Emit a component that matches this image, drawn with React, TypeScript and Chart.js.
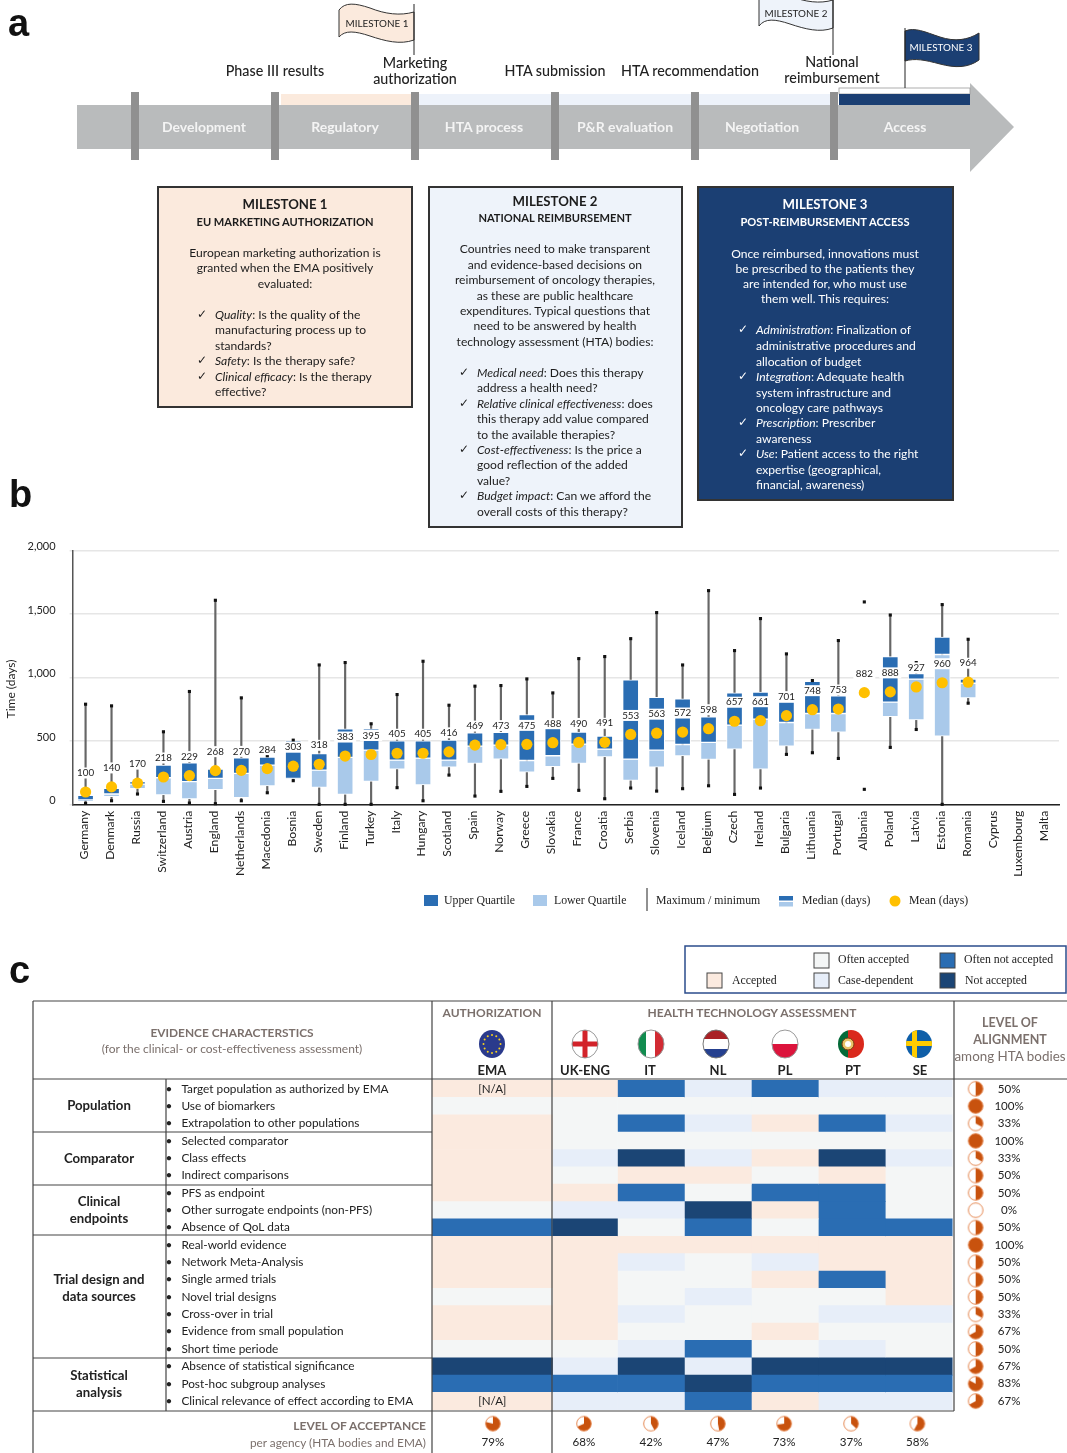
import React, { useEffect, useRef } from "react";
import { Chart, registerables } from "chart.js";

Chart.register(...registerables);

/* ---------- Panel b data ---------- */
const countries = ["Germany","Denmark","Russia","Switzerland","Austria","England","Netherlands","Macedonia","Bosnia","Sweden","Finland","Turkey","Italy","Hungary","Scotland","Spain","Norway","Greece","Slovakia","France","Croatia","Serbia","Slovenia","Iceland","Belgium","Czech","Ireland","Bulgaria","Lithuania","Portugal","Albania","Poland","Latvia","Estonia","Romania","Cyprus","Luxembourg","Malta"];
const maxDays = [791,778,310,574,891,1609,841,385,508,1100,1119,637,867,1129,783,933,938,990,880,1150,1166,1307,1512,1100,1685,1213,1465,1187,977,1292,1596,1493,1119,1575,1302,null,null,null];
const q3Days = [73,128,181,312,330,280,369,375,503,403,597,597,503,503,508,566,569,710,671,571,540,982,846,833,692,880,886,807,972,857,null,1166,1032,1320,988,null,null,null];
const medianDays = [37,84,162,212,181,207,246,312,207,272,372,430,351,367,351,461,469,348,385,477,438,359,430,474,490,626,673,647,718,718,null,807,988,1182,956,null,null,null];
const q1Days = [31,63,126,76,45,118,55,147,205,136,81,183,280,155,296,325,359,257,299,325,377,191,296,383,356,438,280,461,592,571,null,692,668,540,841,null,null,null];
const minDays = [10,31,84,26,13,8,31,94,189,3,3,3,134,31,233,68,105,144,207,113,47,131,107,126,149,81,131,396,409,364,121,451,592,3,799,null,null,null];
const meanDays = [100,140,170,218,229,268,270,284,303,318,383,395,405,405,416,469,473,475,488,490,491,553,563,572,598,657,661,701,748,753,882,888,927,960,964,null,null,null];

/* ---------- Panel c data ---------- */
const rowLabels = ["Target population as authorized by EMA","Use of biomarkers","Extrapolation to other populations","Selected comparator","Class effects","Indirect comparisons","PFS as endpoint","Other surrogate endpoints (non-PFS)","Absence of QoL data","Real-world evidence","Network Meta-Analysis","Single armed trials","Novel trial designs","Cross-over in trial","Evidence from small population","Short time periode","Absence of statistical significance","Post-hoc subgroup analyses","Clinical relevance of effect according to EMA"];
const agencies = ["EMA","UK-ENG","IT","NL","PL","PT","SE"];
// A accepted, O often accepted, C case-dependent, N often not accepted, X not accepted
const emaStatus = "AOAAAAAONAAAOAAOXNA".split("");
const ukStatus = "AOOOCOACXAAAAAAOCNC".split("");
const itStatus = "NONOXANCOACOOCOCXNC".split("");
const nlStatus = "COCOCAOXNAOOCOONCXN".split("");
const plStatus = "NOAOAONAOACAOOAOXNA".split("");
const ptStatus = "CONOXANNNAANOCOCXNC".split("");
const seStatus = "COCOCOOONAAAACOOXNC".split("");
const statuses = [emaStatus, ukStatus, itStatus, nlStatus, plStatus, ptStatus, seStatus];
const columnEdges = [0, 1.8, 2.77, 3.77, 4.77, 5.77, 6.77, 7.77];
const alignment = [50,100,33,100,33,50,50,0,50,100,50,50,50,33,67,50,67,83,67];
const acceptance = [79,68,42,47,73,37,58];
const acceptanceCols = [0.91,2.27,3.27,4.27,5.26,6.26,7.25];
const notApplicableRows = [0, 18];

const statusColors: Record<string,string> = { A:"#FBEADF", O:"#F4F6F6", C:"#E7EEF9", N:"#2A6DB3", X:"#1B4575" };
const BLUE = "#2A6DB3", LIGHT = "#A9C9EA", NAVY = "#1B3F73", GOLD = "#FFC000", PIE = "#C8520E";
const SANS = "Lato, 'Noto Sans', sans-serif";
const SERIF = "'Liberation Serif', serif";
const GREY = "#7b706c";

function pieCanvas(pct: number) {
  const c = document.createElement("canvas");
  c.width = 18; c.height = 18;
  const g = c.getContext("2d")!;
  const cx = 9, cy = 9, r = 7.3;
  g.beginPath(); g.arc(cx, cy, r, 0, Math.PI * 2); g.fillStyle = "#fff"; g.fill();
  if (pct > 0) {
    g.beginPath(); g.moveTo(cx, cy);
    g.arc(cx, cy, r, -Math.PI / 2, -Math.PI / 2 + (Math.PI * 2 * pct) / 100);
    g.closePath(); g.fillStyle = PIE; g.fill();
  }
  g.beginPath(); g.arc(cx, cy, r, 0, Math.PI * 2);
  g.strokeStyle = "#E58A55"; g.lineWidth = 1; g.stroke();
  return c;
}

const T = ({ x, y, a = "start", s = 12, w = 400, i = false, f = "#222", ff = SANS, len, children }: any) => (
  <text x={x} y={y - 0.7} textAnchor={a} fontSize={s} fontWeight={w} fontStyle={i ? "italic" : "normal"} fill={f} fontFamily={ff}
    dominantBaseline="central" {...(len ? { textLength: len, lengthAdjust: "spacingAndGlyphs" } : {})}>{children}</text>
);

type Line = [number, string, string?];

const Card = ({ x, y, w, h, fill, fg, title, sub, titleY, subY, cx, para, items, checkX, textX }: any) => (
  <g>
    <rect x={x} y={y} width={w} height={h} fill={fill} stroke="#333" strokeWidth={2} />
    <T x={cx} y={titleY} a="middle" s={13.2} w={700} f={fg}>{title}</T>
    <T x={cx} y={subY} a="middle" s={11.1} w={700} f={fg}>{sub}</T>
    {para.map((l: Line, k: number) => <T key={k} x={cx} y={l[0]} a="middle" s={12.1} f={fg}>{l[1]}</T>)}
    {items.map((l: Line, k: number) => (
      <g key={k}>
        {l[2] !== undefined && <T x={checkX} y={l[0]} s={12} f={fg} ff="'DejaVu Sans'">✓</T>}
        <text x={textX} y={l[0] - 0.7} fontSize={12.1} fill={fg} fontFamily={SANS} dominantBaseline="central">
          {l[2] ? <tspan fontStyle="italic">{l[2]}</tspan> : null}{l[1]}
        </text>
      </g>
    ))}
  </g>
);

const FlagShape = ({ d, fill, px, y1, y2, label, lx, ly, fg }: any) => (
  <g>
    <path d={d} fill={fill} stroke="#333" strokeWidth={1} />
    <line x1={px} x2={px} y1={y1} y2={y2} stroke="#222" strokeWidth={1} />
    <T x={lx} y={ly} a="middle" s={10} f={fg} len={63}>{label}</T>
  </g>
);

const Overlay = () => {
  const swatch = (x: number, y: number, fill: string) => <rect x={x} y={y} width={15} height={15} fill={fill} stroke="#444" strokeWidth={1} />;
  const flagR = { rx: 13, ry: 14 };
  const flagY = 1044;
  const flagClip = (id: string, cx: number) => <clipPath id={id}><ellipse cx={cx} cy={flagY} {...flagR} /></clipPath>;
  const ring = (cx: number, stroke = "#999") => <ellipse cx={cx} cy={flagY} {...flagR} fill="none" stroke={stroke} strokeWidth={1} />;
  return (
    <svg width={1067} height={1453} style={{ position: "absolute", left: 0, top: 0, pointerEvents: "none" }}>
      {/* panel letters */}
      <T x={8} y={24} s={38} w={700} f="#111" ff="'Liberation Sans'">a</T>
      <T x={9} y={495} s={38} w={700} f="#111" ff="'Liberation Sans'">b</T>
      <T x={9} y={971} s={38} w={700} f="#111" ff="'Liberation Sans'">c</T>

      {/* panel a: arrow */}
      <path d="M77,105 H970 V83 L1014,127 L970,172 V149 H77 Z" fill="#B9BBBC" />
      <rect x={281} y={94} width={130} height={11} fill="#FBEADD" />
      <rect x={419} y={94} width={411} height={11} fill="#EDF2FA" />
      <rect x={839} y={88} width={131} height={6} fill="#fff" stroke="#999" strokeWidth={0.8} />
      <rect x={839} y={94} width={131} height={11} fill={NAVY} />
      {[135,275,415,555,695,834].map((x) => <rect key={x} x={x - 4} y={92} width={8} height={68} fill="#909090" />)}
      {[["Development",204],["Regulatory",345],["HTA process",484],["P&R evaluation",625],["Negotiation",762],["Access",905]].map(([t, x]: any) => (
        <T key={t} x={x} y={127} a="middle" s={14} w={700} f="#F4F4F4">{t}</T>
      ))}
      <T x={275} y={71} a="middle" s={14.3} w={500}>Phase III results</T>
      <T x={415} y={63} a="middle" s={14.3} w={500}>Marketing</T>
      <T x={415} y={79} a="middle" s={14.3} w={500}>authorization</T>
      <T x={555} y={71} a="middle" s={14.3} w={500}>HTA submission</T>
      <T x={690} y={71} a="middle" s={14.3} w={500}>HTA recommendation</T>
      <T x={832} y={62} a="middle" s={14.3} w={500}>National</T>
      <T x={832} y={78} a="middle" s={14.3} w={500}>reimbursement</T>
      <FlagShape d="M339,10 C345,2 355,3 370,8 C385,14 400,16 414,12 L414,40 C400,45 385,41 370,36 C355,31 345,30 339,37 Z" fill="#FBEADD" px={414} y1={4} y2={55} label="MILESTONE 1" lx={377} ly={24} fg="#222" />
      <FlagShape d="M759,-2 C765,-10 775,-9 790,-4 C805,2 820,4 833,0 L833,28 C820,33 805,29 790,24 C775,19 765,18 759,26 Z" fill="#EEF3FA" px={833} y1={0} y2={55} label="MILESTONE 2" lx={796} ly={14} fg="#222" />
      <FlagShape d="M905,31 C915,27 925,32 940,37 C955,42 968,40 979,33 L979,60 C968,68 955,68 940,64 C925,60 915,58 905,61 Z" fill={NAVY} px={905} y1={28} y2={88} label="MILESTONE 3" lx={941} ly={48} fg="#fff" />

      <Card x={158} y={187} w={254} h={220} fill="#FBEADD" fg="#1c1c1c" cx={285} titleY={205} subY={222}
        title="MILESTONE 1" sub="EU MARKETING AUTHORIZATION" checkX={197} textX={215}
        para={[[253,"European marketing authorization is"],[268,"granted when the EMA positively"],[284,"evaluated:"]]}
        items={[[315,": Is the quality of the","Quality"],[330,"manufacturing process up to"],[346,"standards?"],[361,": Is the therapy safe?","Safety"],[377,": Is the therapy","Clinical efficacy"],[392,"effective?"]]} />
      <Card x={429} y={187} w={253} h={340} fill="#EEF3FA" fg="#1c1c1c" cx={555} titleY={202} subY={218}
        title="MILESTONE 2" sub="NATIONAL REIMBURSEMENT" checkX={459} textX={477}
        para={[[249,"Countries need to make transparent"],[265,"and evidence-based decisions on"],[280,"reimbursement of oncology therapies,"],[296,"as these are public healthcare"],[311,"expenditures. Typical questions that"],[326,"need to be answered by health"],[342,"technology assessment (HTA) bodies:"]]}
        items={[[373,": Does this therapy","Medical need"],[388,"address a health need?"],[404,": does","Relative clinical effectiveness"],[419,"this therapy add value compared"],[435,"to the available therapies?"],[450,": Is the price a","Cost-effectiveness"],[465,"good reflection of the added"],[481,"value?"],[496,": Can we afford the","Budget impact"],[512,"overall costs of this therapy?"]]} />
      <Card x={698} y={187} w={255} h={313} fill={NAVY} fg="#fff" cx={825} titleY={205} subY={222}
        title="MILESTONE 3" sub="POST-REIMBURSEMENT ACCESS" checkX={738} textX={756}
        para={[[254,"Once reimbursed, innovations must"],[269,"be prescribed to the patients they"],[284,"are intended for, who must use"],[299,"them well. This requires:"]]}
        items={[[330,": Finalization of","Administration"],[346,"administrative procedures and"],[362,"allocation of budget"],[377,": Adequate health","Integration"],[393,"system infrastructure and"],[408,"oncology care pathways"],[423,": Prescriber","Prescription"],[439,"awareness"],[454,": Patient access to the right","Use"],[470,"expertise (geographical,"],[485,"financial, awareness)"]]} />

      {/* panel b: axis title + legend */}
      <g transform="translate(11,689) rotate(-90)"><T x={0} y={0} a="middle" s={12} f="#222">Time (days)</T></g>
      <rect x={424} y={895} width={14} height={11} fill={BLUE} />
      <T x={444} y={900.5} s={11.8} ff={SERIF}>Upper Quartile</T>
      <rect x={533} y={895} width={14} height={11} fill={LIGHT} />
      <T x={554} y={901} s={11.8} ff={SERIF}>Lower Quartile</T>
      <line x1={647} x2={647} y1={888} y2={911} stroke="#222" strokeWidth={1} />
      <T x={656} y={901} s={11.8} ff={SERIF}>Maximum / minimum</T>
      <rect x={779} y={896} width={14} height={4.5} fill={BLUE} />
      <rect x={779} y={902} width={14} height={4.5} fill={LIGHT} />
      <T x={802} y={901} s={11.8} ff={SERIF}>Median (days)</T>
      <circle cx={895} cy={901} r={5.5} fill={GOLD} />
      <T x={909} y={901} s={11.8} ff={SERIF}>Mean (days)</T>

      {/* panel c: legend */}
      <rect x={685} y={946} width={381} height={47} fill="none" stroke="#2B4C8C" strokeWidth={1.5} />
      {swatch(707, 973, statusColors.A)}<T x={732} y={981} s={11.8} ff={SERIF}>Accepted</T>
      {swatch(814, 953, statusColors.O)}<T x={838} y={960} s={11.8} ff={SERIF}>Often accepted</T>
      {swatch(814, 973, statusColors.C)}<T x={838} y={981} s={11.8} ff={SERIF}>Case-dependent</T>
      {swatch(940, 953, statusColors.N)}<T x={964} y={960} s={11.8} ff={SERIF}>Often not accepted</T>
      {swatch(940, 973, statusColors.X)}<T x={965} y={981} s={11.8} ff={SERIF}>Not accepted</T>

      {/* panel c: table lines */}
      <g stroke="#444" strokeWidth={1.2}>
        <line x1={33} x2={1067} y1={1001} y2={1001} />
        <line x1={33} x2={1067} y1={1079} y2={1079} />
        <line x1={33} x2={432} y1={1132} y2={1132} />
        <line x1={33} x2={432} y1={1185} y2={1185} />
        <line x1={33} x2={432} y1={1235} y2={1235} />
        <line x1={33} x2={432} y1={1358} y2={1358} />
        <line x1={33} x2={954} y1={1411} y2={1411} />
        <line x1={33} x2={33} y1={1001} y2={1453} />
        <line x1={432} x2={432} y1={1001} y2={1453} />
        <line x1={552} x2={552} y1={1001} y2={1453} />
        <line x1={954} x2={954} y1={1001} y2={1411} />
        <line x1={166} x2={166} y1={1079} y2={1411} />
      </g>
      <T x={232} y={1033} a="middle" s={11.9} w={700} f={GREY}>EVIDENCE CHARACTERSTICS</T>
      <T x={232} y={1049} a="middle" s={12} f={GREY}>(for the clinical- or cost-effectiveness assessment)</T>
      <T x={99} y={1106} a="middle" s={13.2} w={700}>Population</T>
      <T x={99} y={1159} a="middle" s={13.2} w={700}>Comparator</T>
      <T x={99} y={1202} a="middle" s={13.2} w={700}>Clinical</T>
      <T x={99} y={1219} a="middle" s={13.2} w={700}>endpoints</T>
      <T x={99} y={1280} a="middle" s={13.2} w={700}>Trial design and</T>
      <T x={99} y={1297} a="middle" s={13.2} w={700}>data sources</T>
      <T x={99} y={1376} a="middle" s={13.2} w={700}>Statistical</T>
      <T x={99} y={1393} a="middle" s={13.2} w={700}>analysis</T>
      <T x={492} y={1013} a="middle" s={12} w={700} f={GREY}>AUTHORIZATION</T>
      <T x={752} y={1013} a="middle" s={12} w={700} f={GREY}>HEALTH TECHNOLOGY ASSESSMENT</T>
      <T x={1010} y={1023} a="middle" s={12.5} w={700} f={GREY}>LEVEL OF</T>
      <T x={1010} y={1040} a="middle" s={12.5} w={700} f={GREY}>ALIGNMENT</T>
      <T x={1010} y={1057} a="middle" s={13.4} f={GREY}>among  HTA bodies</T>
      <T x={426} y={1426} a="end" s={12} w={700} f={GREY}>LEVEL OF ACCEPTANCE</T>
      <T x={426} y={1443} a="end" s={11.8} f={GREY}>per agency (HTA bodies and EMA)</T>
      {agencies.map((n, k) => (
        <T key={n} x={[492,585,650,718,785,853,920][k]} y={1071} a="middle" s={13} w={700}>{n}</T>
      ))}

      {/* flags */}
      <defs>
        {flagClip("f0", 492)}{flagClip("f1", 585)}{flagClip("f2", 651)}{flagClip("f3", 716)}{flagClip("f4", 785)}{flagClip("f5", 851)}{flagClip("f6", 919)}
      </defs>
      <ellipse cx={492} cy={flagY} {...flagR} fill="#2A3A8C" />
      {Array.from({ length: 12 }, (_, k) => (
        <circle key={k} cx={492 + 8.5 * Math.cos((k * Math.PI) / 6)} cy={flagY + 9 * Math.sin((k * Math.PI) / 6)} r={1} fill="#F7D11E" />
      ))}
      <g clipPath="url(#f1)"><rect x={570} y={1028} width={30} height={32} fill="#fff" /><rect x={582.5} y={1028} width={5} height={32} fill="#D2232A" /><rect x={570} y={1041.5} width={30} height={5} fill="#D2232A" /></g>{ring(585)}
      <g clipPath="url(#f2)"><rect x={636} y={1028} width={10} height={32} fill="#118C4F" /><rect x={646} y={1028} width={9} height={32} fill="#fff" /><rect x={655} y={1028} width={12} height={32} fill="#D22B33" /></g>{ring(651)}
      <g clipPath="url(#f3)"><rect x={700} y={1028} width={32} height={11} fill="#A92126" /><rect x={700} y={1039} width={32} height={10} fill="#fff" /><rect x={700} y={1049} width={32} height={11} fill="#25408F" /></g>{ring(716, "#777")}
      <g clipPath="url(#f4)"><rect x={770} y={1028} width={30} height={16} fill="#fff" /><rect x={770} y={1044} width={30} height={16} fill="#DC143C" /></g>{ring(785)}
      <g clipPath="url(#f5)"><rect x={836} y={1028} width={12} height={32} fill="#046A38" /><rect x={848} y={1028} width={20} height={32} fill="#DA291C" /><circle cx={848} cy={1044} r={6} fill="#E9C46A" stroke="#7a3b10" strokeWidth={1} /><circle cx={848} cy={1044} r={3} fill="#fff" /></g>
      <g clipPath="url(#f6)"><rect x={904} y={1028} width={30} height={32} fill="#0F5FA8" /><rect x={912} y={1028} width={5} height={32} fill="#FECC00" /><rect x={904} y={1041} width={30} height={5} fill="#FECC00" /></g>
    </svg>
  );
};

export default function App() {
  const boxRef = useRef<HTMLCanvasElement>(null);
  const heatRef = useRef<HTMLCanvasElement>(null);

  useEffect(() => {
    const ctxBox = boxRef.current!;
    const labelPlugin = {
      id: "meanLabels",
      afterDatasetsDraw(chart: any) {
        const g = chart.ctx;
        const meta = chart.getDatasetMeta(chart.data.datasets.length - 1);
        g.save();
        g.font = `9.8px ${SANS}`;
        g.textAlign = "center";
        g.textBaseline = "middle";
        meanDays.forEach((v, i) => {
          if (v === null) return;
          const p = meta.data[i];
          const y = p.y - 19;
          g.fillStyle = "#fff";
          g.fillRect(p.x - 11, y - 5.5, 22, 11);
          g.fillStyle = "#222";
          g.fillText(String(v), p.x, y);
        });
        g.restore();
      },
    };
    const bar = (label: string, data: any[], color: string, order: number, extra: any = {}) => ({
      type: "bar", label, data, backgroundColor: color, order, grouped: false, barThickness: 16,
      borderWidth: 1, borderColor: "#fff", borderSkipped: false, ...extra,
    });
    const dots = (label: string, data: any[], color: string, order: number, style: string, r: number) => ({
      type: "line", label, data, showLine: false, order, pointStyle: style, pointRadius: r, pointHoverRadius: r,
      pointBackgroundColor: color, pointBorderWidth: 0, backgroundColor: color, clip: false,
    });
    const boxChart = new Chart(ctxBox, {
      data: {
        labels: countries,
        datasets: [
          bar("Maximum / minimum", countries.map((_, i) => (q3Days[i] === null || maxDays[i] === null ? null : [minDays[i], maxDays[i]])), "#666666", 6, { barThickness: 1.5, borderWidth: 0 }),
          bar("Upper Quartile", countries.map((_, i) => (q3Days[i] === null ? null : [medianDays[i], q3Days[i]])), BLUE, 4),
          bar("Lower Quartile", countries.map((_, i) => (q1Days[i] === null ? null : [q1Days[i], medianDays[i]])), LIGHT, 4),
          dots("Maximum", maxDays, "#111111", 3, "rect", 2.2),
          dots("Minimum", minDays, "#111111", 3, "rect", 2.2),
          dots("Mean (days)", meanDays, GOLD, 1, "circle", 5.6),
        ],
      } as any,
      plugins: [labelPlugin],
      options: {
        responsive: false,
        animation: false,
        devicePixelRatio: 1,
        layout: { padding: { left: 0, top: 10.6, right: 8, bottom: 0 } },
        plugins: { legend: { display: false }, tooltip: { enabled: false } },
        scales: {
          x: {
            afterFit: (s: any) => { s.height = 80.3; },
            grid: { display: false, drawTicks: false },
            border: { color: "#222", width: 1.5 },
            ticks: { autoSkip: false, minRotation: 90, maxRotation: 90, padding: 6, labelOffset: -1.5, color: "#222", font: { family: SANS, size: 12.2 } },
          },
          y: {
            min: 0, max: 2000,
            afterFit: (s: any) => { s.width = 72.6; },
            grid: { color: "#E6E6E6", lineWidth: 1.5, tickLength: 3 },
            border: { color: "#555", width: 1.5 },
            ticks: { stepSize: 500, padding: 14, labelOffset: -4, color: "#222", font: { family: SANS, size: 11 }, callback: (v: any) => Number(v).toLocaleString("en-US") },
          },
        },
      } as any,
    });

    const alignPies = alignment.map(pieCanvas);
    const acceptPies = acceptance.map(pieCanvas);
    const textPlugin = {
      id: "tableText",
      afterDatasetsDraw(chart: any) {
        const g = chart.ctx, X = chart.scales.x, Y = chart.scales.y;
        g.save();
        g.font = `11.6px ${SANS}`;
        g.fillStyle = "#222";
        g.textAlign = "center";
        g.textBaseline = "middle";
        alignment.forEach((v, i) => g.fillText(`${v}%`, X.getPixelForValue(8.62), Y.getPixelForValue(i + 0.5)));
        acceptance.forEach((v, i) => g.fillText(`${v}%`, X.getPixelForValue(acceptanceCols[i]), Y.getPixelForValue(20.9)));
        notApplicableRows.forEach((r) => g.fillText("[N/A]", X.getPixelForValue(0.9), Y.getPixelForValue(r + 0.5)));
        g.restore();
      },
    };
    const heatChart = new Chart(heatRef.current!, {
      type: "bar",
      data: {
        datasets: [
          ...agencies.map((name, c) => ({
            type: "bar", label: name, grouped: false, barPercentage: 1, categoryPercentage: 1, borderWidth: 0, order: 3,
            data: rowLabels.map((_, r) => ({ x: [columnEdges[c], columnEdges[c + 1]], y: r + 0.5 })),
            backgroundColor: statuses[c].map((s) => statusColors[s]),
          })),
          {
            type: "line", label: "Level of alignment", showLine: false, order: 1, pointRadius: 8, pointBorderWidth: 0,
            data: alignment.map((_, r) => ({ x: 8.12, y: r + 0.5 })),
            pointStyle: (c: any) => alignPies[c.dataIndex],
          },
          {
            type: "line", label: "Level of acceptance", showLine: false, order: 1, pointRadius: 8, pointBorderWidth: 0,
            data: acceptance.map((_, i) => ({ x: acceptanceCols[i], y: 19.8 })),
            pointStyle: (c: any) => acceptPies[c.dataIndex],
          },
        ],
      } as any,
      plugins: [textPlugin],
      options: {
        indexAxis: "y",
        responsive: false,
        animation: false,
        devicePixelRatio: 1,
        layout: { padding: { left: 165.5, top: 9.7, right: 0, bottom: 3.1 } },
        plugins: { legend: { display: false }, tooltip: { enabled: false } },
        scales: {
          x: { type: "linear", display: false, min: 0, max: 9.365, offset: false, grid: { display: false } },
          y: {
            type: "linear", reverse: true, min: 0, max: 20.91, offset: false,
            afterFit: (s: any) => { s.width = 266.5; },
            afterBuildTicks: (s: any) => { s.ticks = rowLabels.map((_, i) => ({ value: i + 0.5 })); },
            grid: { display: false, drawTicks: false },
            border: { display: false },
            ticks: {
              autoSkip: false, crossAlign: "far", color: "#222", font: { family: SANS, size: 11.8 },
              callback: (v: any) => `•   ${rowLabels[Math.round(v - 0.5)]}`,
            },
          },
        },
      } as any,
    });
    return () => { boxChart.destroy(); heatChart.destroy(); };
  }, []);

  return (
    <div style={{ position: "absolute", left: 0, top: 0, width: 1067, height: 1453, overflow: "hidden", background: "#fff" }}>
      <canvas ref={boxRef} width={1067} height={355} style={{ position: "absolute", left: 0, top: 530, width: 1067, height: 355 }} />
      <canvas ref={heatRef} width={1067} height={383} style={{ position: "absolute", left: 0, top: 1070, width: 1067, height: 383 }} />
      <Overlay />
    </div>
  );
}
